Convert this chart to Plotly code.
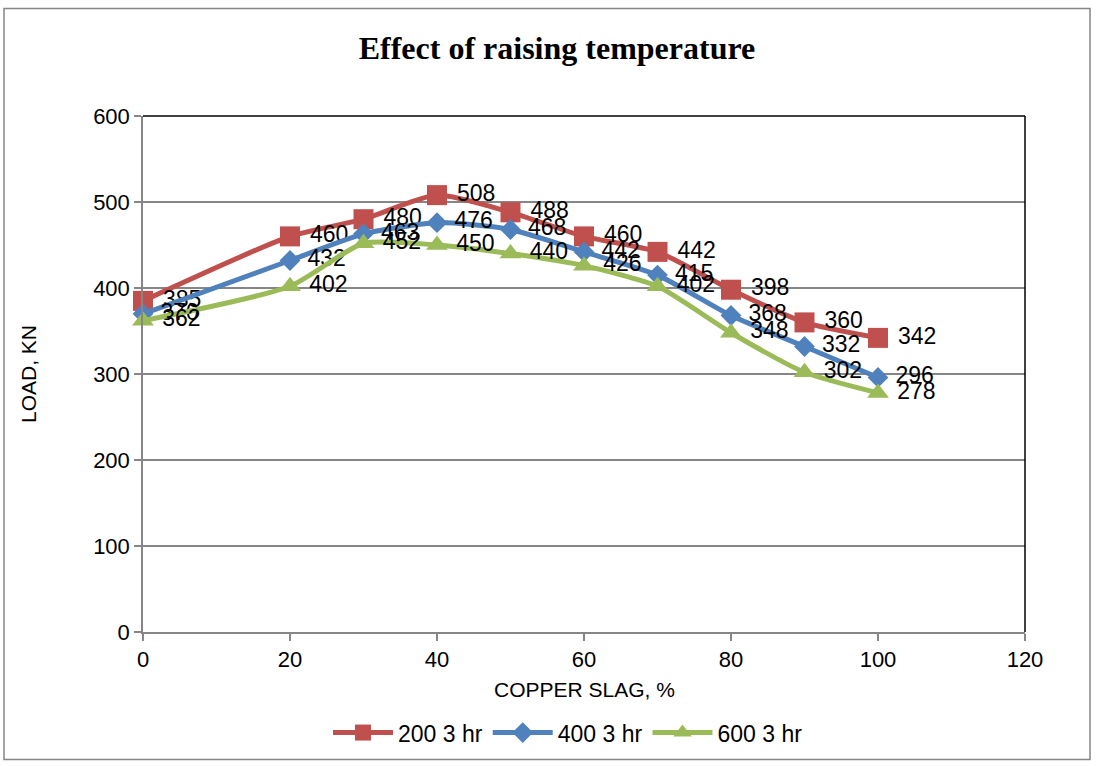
import plotly.graph_objects as go

x_vals = [0, 20, 30, 40, 50, 60, 70, 80, 90, 100]
load_200 = [385, 460, 480, 508, 488, 460, 442, 398, 360, 342]
load_400 = [370, 432, 463, 476, 468, 442, 415, 368, 332, 296]
load_600 = [362, 402, 452, 450, 440, 426, 402, 348, 302, 278]
series_names = ["200 3 hr", "400 3 hr", "600 3 hr"]
colors = ["#C0504D", "#4F81BD", "#9BBB59"]
symbols = ["square", "diamond", "triangle-up"]
sizes = [20, 16, 19]

W, H = 1096, 766
L, R, T, B = 143, 1025, 116, 634
FONT = "Liberation Sans"

fig = go.Figure()
for name, ys, c, s, sz in zip(series_names, [load_200, load_400, load_600], colors, symbols, sizes):
    fig.add_trace(go.Scatter(
        x=x_vals, y=ys, name=name,
        mode="lines+markers+text",
        line=dict(color=c, width=5, shape="spline", smoothing=0.6),
        marker=dict(symbol=s, size=sz, color=c),
        text=[" " + str(v) for v in ys],
        textposition="middle right",
        textfont=dict(family=FONT, size=23, color="#000000"),
        cliponaxis=False,
    ))

def px(xp):
    return (xp - L) / (R - L)

def py(yp):
    return (B - yp) / (B - T)

shapes = [
    dict(type="rect", xref="paper", yref="paper",
         x0=px(4), x1=px(1090), y0=py(762), y1=py(8),
         line=dict(color="#868686", width=1.5), layer="below"),
    dict(type="line", xref="paper", yref="paper", x0=0, x1=1, y0=1, y1=1,
         line=dict(color="#000000", width=1.5)),
    dict(type="line", xref="paper", yref="paper", x0=1, x1=1, y0=0, y1=1,
         line=dict(color="#000000", width=1.5)),
]

fig.update_layout(
    width=W, height=H,
    margin=dict(l=L, r=W - R, t=T, b=H - B),
    paper_bgcolor="white", plot_bgcolor="white",
    shapes=shapes,
    title=dict(text="<b>Effect of raising temperature</b>", x=557 / W, xanchor="center",
               y=1 - 48 / H, yanchor="middle",
               font=dict(family="Liberation Serif", size=32, color="#000000")),
    showlegend=True,
    legend=dict(orientation="h", x=px(568), xanchor="center", y=py(735), yanchor="middle",
                font=dict(family=FONT, size=23, color="#000000"),
                itemwidth=60, tracegroupgap=0, bgcolor="rgba(0,0,0,0)"),
    xaxis=dict(range=[0, 120], tickvals=[0, 20, 40, 60, 80, 100, 120],
               showgrid=False, zeroline=False,
               showline=True, linecolor="#868686", linewidth=1.5,
               ticks="outside", ticklen=7, tickcolor="#868686", tickwidth=1.5,
               tickfont=dict(family=FONT, size=22, color="#000000")),
    yaxis=dict(range=[0, 600], tickvals=[0, 100, 200, 300, 400, 500, 600],
               showgrid=True, gridcolor="#868686", gridwidth=1.5, zeroline=False,
               showline=True, linecolor="#868686", linewidth=1.5,
               ticks="outside", ticklen=7, tickcolor="#868686", tickwidth=1.5,
               tickfont=dict(family=FONT, size=22, color="#000000")),
    annotations=[
        dict(text="COPPER SLAG, %", xref="paper", yref="paper", x=0.5, y=py(692),
             xanchor="center", yanchor="middle", showarrow=False,
             font=dict(family=FONT, size=21, color="#000000")),
        dict(text="LOAD, KN", xref="paper", yref="paper", x=px(28), y=0.5,
             xanchor="center", yanchor="middle", showarrow=False, textangle=-90,
             font=dict(family=FONT, size=21, color="#000000")),
    ],
)

fig.write_html("out.html", config={"displayModeBar": False},
               post_script="document.body.style.margin='0';document.body.style.padding='0';")
